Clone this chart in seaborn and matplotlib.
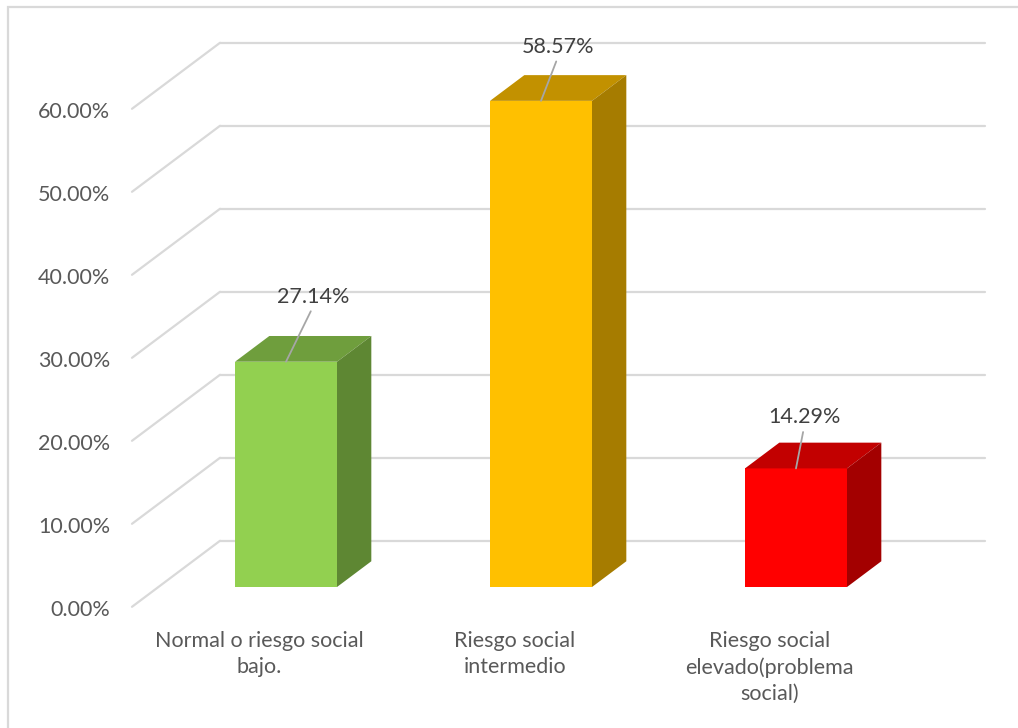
import textwrap
import matplotlib
matplotlib.use("Agg")
import matplotlib.pyplot as plt
from matplotlib.patches import Polygon, Rectangle
from matplotlib.lines import Line2D
import seaborn as sns
import pandas as pd

# ---- data ----
categories = ["Normal o riesgo social bajo.", "Riesgo social intermedio",
              "Riesgo social elevado(problema social)"]
values = [27.14, 58.57, 14.29]
value_labels = ["27.14%", "58.57%", "14.29%"]
y_ticks = [0, 10, 20, 30, 40, 50, 60]
y_tick_labels = ["0.00%", "10.00%", "20.00%", "30.00%", "40.00%", "50.00%", "60.00%"]

# ---- style ----
front_colors = ["#92D050", "#FFC000", "#FF0000"]
top_colors = ["#6F9E3D", "#C29100", "#C20000"]
side_colors = ["#5E8733", "#A67C00", "#A30000"]
grid_color = "#D9D9D9"
text_color = "#595959"
label_color = "#404040"
FONT = "Lato"

W, H = 1018, 728
fig = plt.figure(figsize=(W / 100, H / 100), dpi=100)
ax = fig.add_axes([0, 0, 1, 1])
sns.set_style("white")

df = pd.DataFrame({"cat": categories, "val": values})
sns.barplot(data=df, x="cat", y="val", hue="cat", palette=front_colors,
            width=0.4, legend=False, ax=ax, saturation=1, zorder=3,
            edgecolor="none", linewidth=0)

# pixel-consistent scaling of axes
px_per_cat = 255.0
px_per_pct = 8.3
x_center0 = 286.0
y_base = 587.0
ax.set_xlim(-x_center0 / px_per_cat, (W - x_center0) / px_per_cat)
ax.set_ylim((y_base - H) / px_per_pct, y_base / px_per_pct)
ax.axis("off")

# depth vector (floor front edge -> back wall) in data units
depth_dx = 88 / px_per_cat
depth_dv = 66 / px_per_pct
bar_plane = 0.3            # bars' front face position along the depth
bar_depth = 0.39           # bar depth fraction
front_dx, front_dv = -bar_plane * depth_dx, -bar_plane * depth_dv
back_dx, back_dv = (1 - bar_plane) * depth_dx, (1 - bar_plane) * depth_dv
bdx, bdv = bar_depth * depth_dx, bar_depth * depth_dv

x_left_front = -0.5 - 0.1 + front_dx + 0.0
x_left_front = (132 - x_center0) / px_per_cat
x_left_back = x_left_front + depth_dx
x_right_back = (985 - x_center0) / px_per_cat

# gridlines: back wall + side wall diagonals
for v in y_ticks:
    ax.add_line(Line2D([x_left_back, x_right_back], [v + back_dv] * 2,
                       color=grid_color, lw=1.6, zorder=1))
    ax.add_line(Line2D([x_left_front, x_left_back], [v + front_dv, v + back_dv],
                       color=grid_color, lw=1.6, zorder=1))
    ax.text(x_left_front - 22 / px_per_cat, v + front_dv - 0.35, y_tick_labels[y_ticks.index(v)],
            ha="right", va="center", fontsize=15.5, color=text_color, family=FONT)

# 3D faces for each bar
for i, p in enumerate(ax.patches[:len(values)]):
    x0 = p.get_x()
    w = p.get_width()
    h = p.get_height()
    top = Polygon([(x0, h), (x0 + w, h), (x0 + w + bdx, h + bdv), (x0 + bdx, h + bdv)],
                  closed=True, facecolor=top_colors[i], edgecolor="none", zorder=3)
    side = Polygon([(x0 + w, 0), (x0 + w + bdx, bdv), (x0 + w + bdx, h + bdv), (x0 + w, h)],
                   closed=True, facecolor=side_colors[i], edgecolor="none", zorder=3)
    ax.add_patch(top)
    ax.add_patch(side)

# data labels with leader lines (offsets in pixels)
label_offsets = [(27, 65), (17, 54), (8, 51)]
for i, (v, lab) in enumerate(zip(values, value_labels)):
    ax.annotate(lab, xy=(i, v), xytext=label_offsets[i], textcoords="offset pixels",
                ha="center", va="center", fontsize=15.5, color=label_color, family=FONT,
                zorder=5,
                arrowprops=dict(arrowstyle="-", color="#A6A6A6", lw=1.3,
                                shrinkA=1, shrinkB=0, relpos=(0.5, 0.0)))

# category labels
for i, c in enumerate(categories):
    ax.text(i + front_dx, front_dv - 2.9, "\n".join(textwrap.wrap(c, 22)),
            ha="center", va="top", fontsize=15.5, color=text_color, family=FONT,
            linespacing=1.38)

# chart-area border
fig.add_artist(Rectangle((8 / W, -0.1), 1.2, 1 - 7 / H + 0.1, transform=fig.transFigure,
                         fill=False, edgecolor=grid_color, lw=1.6))

fig.savefig("out.png", dpi=100)
